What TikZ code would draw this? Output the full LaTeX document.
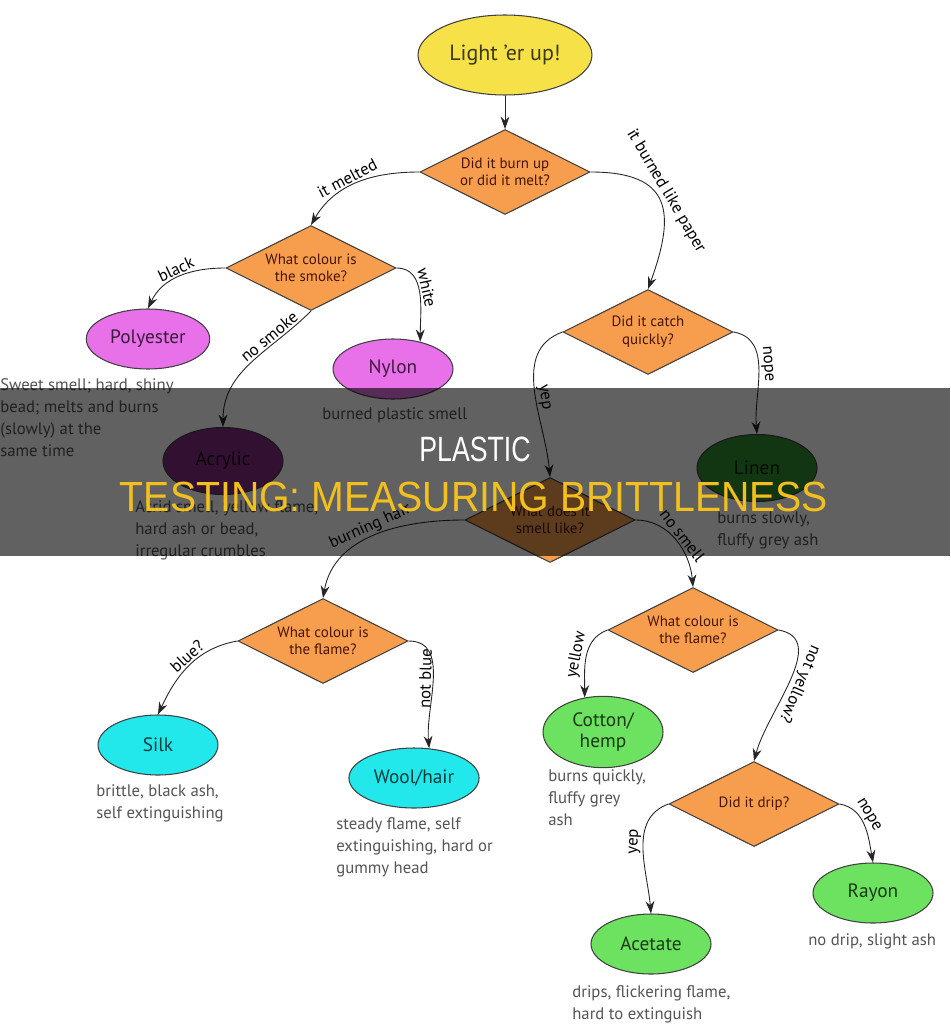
\documentclass[tikz,border=0pt]{standalone}
\usepackage{fontspec}
\usepackage{graphicx}
\usepackage{xcolor}
\usepackage{tikz}
\setmainfont{PT Sans}
\newfontfamily\titlefont{Liberation Sans}
\usetikzlibrary{arrows.meta,shapes.geometric}

\definecolor{qorange}{RGB}{246,158,78}
\definecolor{qbrown}{RGB}{70,20,5}
\definecolor{qyellow}{RGB}{246,226,72}
\definecolor{qpink}{RGB}{232,112,232}
\definecolor{qpurple}{RGB}{132,44,132}
\definecolor{qdkgreen}{RGB}{48,140,48}
\definecolor{qcyan}{RGB}{34,232,236}
\definecolor{qgreen}{RGB}{108,226,96}
\definecolor{qnote}{RGB}{85,85,85}
\definecolor{qgold}{RGB}{242,192,30}

\begin{document}
\begin{tikzpicture}[x=0.02cm,y=0.02cm,
  ask/.style={diamond,draw=black!75,line width=0.6pt,shape aspect=2,inner sep=0pt,
    minimum width=3.4cm,minimum height=1.7cm,align=center,text=qbrown,fill=qorange,
    font=\fontsize{8.5}{10}\selectfont},
  leaf/.style={ellipse,draw=black!75,line width=0.6pt,minimum width=2.4cm,minimum height=1.2cm,
    fill=#1,text=#1!25!black,font=\fontsize{11}{13}\selectfont},
  note/.style={anchor=north west,align=left,inner sep=0pt,text=qnote,
    font=\fontsize{9.5}{12.5}\selectfont},
  arr/.style={-{Stealth[length=7pt,width=5pt]},line width=0.5pt,black!85},
  lbl/.style={sloped,inner sep=1pt,text=black,font=\fontsize{9.5}{11}\selectfont}]
\useasboundingbox (0,0) rectangle (950,-1024);
\fill[white] (0,0) rectangle (950,-1024);

% questions
\node[leaf=qyellow,minimum width=3.3cm,minimum height=1.6cm,font=\fontsize{12.5}{14}\selectfont] (start) at (505,-55) {Light 'er up!};
\node[ask] (burn) at (505,-172) {Did it burn up\\or did it melt?};
\node[ask] (smoke) at (311,-268) {What colour is\\the smoke?};
\node[ask] (catch) at (648,-332) {Did it catch\\quickly?};
\node[ask] (smellq) at (550,-520) {What does it\\smell like?};
\node[ask] (flameL) at (323,-641) {What colour is\\the flame?};
\node[ask] (flameR) at (693,-630) {What colour is\\the flame?};
\node[ask] (drip) at (754,-804) {Did it drip?};

% materials
\node[leaf=qpink] (poly) at (148,-339) {Polyester};
\node[leaf=qpink] (nylon) at (393,-369) {Nylon};
\node[leaf=qpurple,minimum height=1.34cm] (acryl) at (223,-461) {Acrylic};
\node[leaf=qdkgreen,minimum height=1.34cm] (linen) at (757,-468) {Linen};
\node[leaf=qcyan] (silk) at (158,-745) {Silk};
\node[leaf=qcyan] (wool) at (414,-778) {Wool/hair};
\node[leaf=qgreen,align=center,font=\fontsize{11}{12}\selectfont] (cotton) at (603,-732) {Cotton/\\hemp};
\node[leaf=qgreen] (rayon) at (873,-893) {Rayon};
\node[leaf=qgreen] (acet) at (651,-944) {Acetate};

% notes
\node[note] (npoly) at (0,-378) {Sweet smell; hard, shiny\\bead; melts and burns\\(slowly) at the\\same time};
\node[note] (nnylon) at (322,-407) {burned plastic smell};
\node[note] (nacryl) at (135,-500) {Acrid smell, yellow flame,\\hard ash or bead,\\irregular crumbles};
\node[note] (nlinen) at (717,-511) {burns slowly,\\fluffy grey ash};
\node[note] (nsilk) at (96,-784) {brittle, black ash,\\self extinguishing};
\node[note] (nwool) at (336,-817) {steady flame, self\\extinguishing, hard or\\gummy head};
\node[note] (ncotton) at (548,-769) {burns quickly,\\fluffy grey\\ash};
\node[note] (nrayon) at (808,-933) {no drip, slight ash};
\node[note] (nacet) at (572,-985) {drips, flickering flame,\\hard to extinguish};

% connectors
\draw[arr] (start) -- (burn);
\draw[arr] (burn.west) to[out=180,in=60] node[lbl,above,pos=0.55] {it melted} (smoke.north);
\draw[arr] (burn.east) to[out=0,in=70,looseness=1.6] node[lbl,above,pos=0.45] {it burned like paper} (catch.north);
\draw[arr] (smoke.west) to[out=180,in=65] node[lbl,above,pos=0.5] {black} (poly.north);
\draw[arr] (smoke.east) to[out=0,in=90] node[lbl,above,pos=0.45] {white} (nylon.45);
\draw[arr] (smoke.south) to[out=225,in=90] node[lbl,above,pos=0.3] {no smoke} (acryl.north);
\draw[arr] (catch.west) to[out=200,in=95] node[lbl,above,pos=0.55] {yep} (smellq.north);
\draw[arr] (catch.east) to[out=-10,in=95] node[lbl,above,pos=0.45] {nope} (linen.north);
\draw[arr] (smellq.west) to[out=180,in=80] node[lbl,above,pos=0.5] {burning hair} (flameL.north);
\draw[arr] (smellq.east) to[out=0,in=95] node[lbl,above,pos=0.5] {no smell} (flameR.north);
\draw[arr] (flameL.west) to[out=190,in=65] node[lbl,above,pos=0.45] {blue?} (silk.north);
\draw[arr] (flameL.east) to[out=0,in=95] node[lbl,above,pos=0.5] {not blue} (wool.63);
\draw[arr] (flameR.west) to[out=200,in=90] node[lbl,above,pos=0.5] {yellow} (cotton.118);
\draw[arr] (flameR.east) to[out=-10,in=75] node[lbl,above,allow upside down,pos=0.5] {not yellow?} (drip.north);
\draw[arr] (drip.west) to[out=200,in=95] node[lbl,above,pos=0.45] {yep} (acet.north);
\draw[arr] (drip.east) to[out=-10,in=100] node[lbl,above,pos=0.4] {nope} (rayon.north);

% title band
\fill[black,fill opacity=0.62] (0,-388) rectangle (950,-556);
\node[text=white,font=\titlefont\fontsize{20}{24}\selectfont] (t1) at (475,-449) {\scalebox{0.76}[1]{PLASTIC}};
\node[text=qgold,font=\titlefont\fontsize{24}{28}\selectfont] (t2) at (474,-497) {\scalebox{0.93}[1]{TESTING: MEASURING BRITTLENESS}};
\end{tikzpicture}
\end{document}
